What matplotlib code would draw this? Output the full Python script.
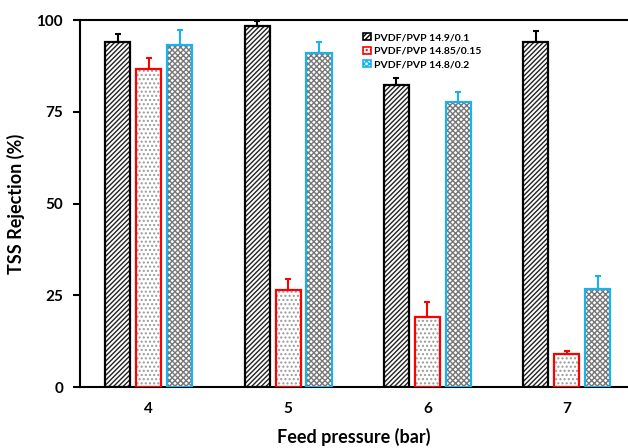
import matplotlib
matplotlib.use('Agg')
import matplotlib.pyplot as plt
from matplotlib.patches import Patch
import numpy as np

plt.rcParams['font.family'] = ['Lato', 'DejaVu Sans']
plt.rcParams['hatch.linewidth'] = 1.0

pressure = [4, 5, 6, 7]
labels = ['PVDF/PVP 14.9/0.1', 'PVDF/PVP 14.85/0.15', 'PVDF/PVP 14.8/0.2']

rej_01 = [94.1, 98.5, 82.3, 94.0]
err_01 = [2.0, 1.2, 2.0, 3.1]
rej_015 = [86.6, 26.5, 19.0, 9.0]
err_015 = [3.1, 3.0, 4.1, 0.8]
rej_02 = [93.2, 91.1, 77.7, 26.6]
err_02 = [4.2, 3.0, 2.6, 3.6]

series = [rej_01, rej_015, rej_02]
errors = [err_01, err_015, err_02]
colors = ['black', '#ff0000', '#1ab2ea']
hatches = ['///////', '....', 'xxxxxx']
hatch_cols = ['#222222', '#999999', '#777777']

fig = plt.figure(figsize=(6.28, 4.48), dpi=100)
ax = fig.add_axes([0.127, 0.136, 0.873, 0.819])

x = np.array(pressure, dtype=float)
w = 0.18
offs = [-0.222, 0.0, 0.222]

for vals, err, c, h, hc, o in zip(series, errors, colors, hatches, hatch_cols, offs):
    ax.bar(x + o, vals, w, color='white', edgecolor=hc, hatch=h, linewidth=0, zorder=2)
    ax.bar(x + o, vals, w, fill=False, edgecolor=c, linewidth=1.6, zorder=3)
    ax.errorbar(x + o, vals, yerr=[[0] * len(vals), err], fmt='none', ecolor=c,
                elinewidth=1.5, capsize=2.5, capthick=1.5, zorder=4)

ax.set_xlim(3.505, 7.44)
ax.set_ylim(0, 100)
ax.set_yticks([0, 25, 50, 75, 100])
ax.set_xticks(pressure)
ax.tick_params(axis='x', length=0, pad=11, labelsize=11)
ax.tick_params(axis='y', direction='out', length=5, width=1.5, pad=7, labelsize=11)
for lab in ax.get_xticklabels() + ax.get_yticklabels():
    lab.set_fontweight('bold')
ax.spines['right'].set_visible(False)
for s in ['left', 'bottom', 'top']:
    ax.spines[s].set_linewidth(1.5)

ax.set_ylabel('TSS Rejection (%)', fontsize=13, fontweight='bold', labelpad=8)
ax.set_xlabel('Feed pressure (bar)', fontsize=13, fontweight='bold', labelpad=8)

handles = [Patch(facecolor='white', edgecolor=c, hatch=h, linewidth=1.2)
           for c, h in zip(colors, hatches)]
ax.legend(handles, labels, loc='upper left', bbox_to_anchor=(0.5, 0.99),
          frameon=False, prop={'size': 7.5, 'weight': 'bold'},
          handlelength=0.7, handleheight=0.7, handletextpad=0.3, labelspacing=0.4)

plt.savefig('out.png', dpi=100)
